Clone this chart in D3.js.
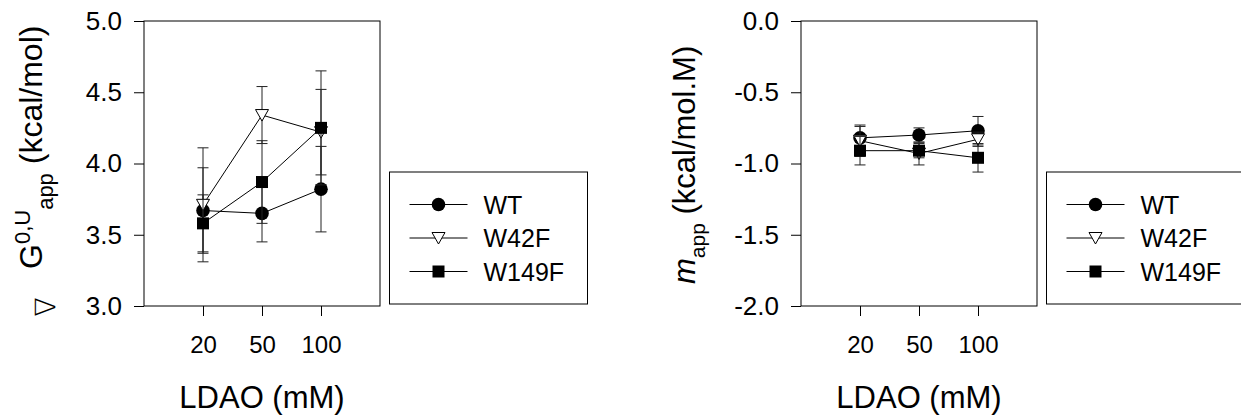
<!DOCTYPE html>
<html>
<head>
<meta charset="utf-8">
<script src="https://cdn.jsdelivr.net/npm/d3@7"></script>
<style>
  body { margin: 0; background: #fff; }
  svg { display: block; font-family: "Liberation Sans", Arial, sans-serif; }
</style>
</head>
<body>
<div id="chart"></div>
<script>
// LDAO concentrations (categorical x)
const categories = ["20", "50", "100"];
const seriesNames = ["WT", "W42F", "W149F"];

// left panel: dG (kcal/mol)
const dgWT = [3.67, 3.65, 3.82];
const dgWTErr = [0.30, 0.20, 0.30];
const dgW42F = [3.71, 4.34, 4.22];
const dgW42FErr = [0.40, 0.20, 0.30];
const dgW149F = [3.58, 3.87, 4.25];
const dgW149FErr = [0.20, 0.29, 0.40];
const dgTicks = [3.0, 3.5, 4.0, 4.5, 5.0];

// right panel: m (kcal/mol.M)
const mWT = [-0.82, -0.80, -0.77];
const mWTErr = [0.08, 0.05, 0.10];
const mW42F = [-0.84, -0.93, -0.83];
const mW42FErr = [0.11, 0.08, 0.05];
const mW149F = [-0.91, -0.91, -0.96];
const mW149FErr = [0.10, 0.05, 0.10];
const mTicks = [-2.0, -1.5, -1.0, -0.5, 0.0];

const width = 1241, height = 418;
const plotW = 236, plotH = 285;

const svg = d3.select("#chart").append("svg")
  .attr("width", width)
  .attr("height", height);

// marker drawing, shared by plot and legend
function drawMarker(g, shape, cx, cy) {
  if (shape === "circle") {
    g.append("circle").attr("cx", cx).attr("cy", cy).attr("r", 6.8).attr("fill", "#000");
  } else if (shape === "triangle") {
    g.append("path")
      .attr("d", `M${cx - 6.5},${cy - 5.5}L${cx + 6.5},${cy - 5.5}L${cx},${cy + 6}Z`)
      .attr("fill", "#fff").attr("stroke", "#000").attr("stroke-width", 1);
  } else {
    g.append("rect").attr("x", cx - 6).attr("y", cy - 6).attr("width", 12).attr("height", 12).attr("fill", "#000");
  }
}
const shapes = ["circle", "triangle", "square"];

function drawPanel(left, top, yDomain, ticks, values, errors) {
  const g = svg.append("g").attr("transform", `translate(${left},${top})`);

  const x = d3.scalePoint().domain(categories).range([0, plotW]).padding(1);
  const y = d3.scaleLinear().domain(yDomain).range([plotH, 0]);

  g.append("rect")
    .attr("width", plotW).attr("height", plotH)
    .attr("fill", "none").attr("stroke", "#000").attr("stroke-width", 1);

  const yAxis = g.append("g")
    .call(d3.axisLeft(y).tickValues(ticks).tickFormat(d => d.toFixed(1)).tickSize(10).tickSizeOuter(0).tickPadding(12));
  const xAxis = g.append("g")
    .attr("transform", `translate(0,${plotH})`)
    .call(d3.axisBottom(x).tickSize(10).tickSizeOuter(0).tickPadding(20));

  [yAxis, xAxis].forEach(a => {
    a.select(".domain").remove();
    a.selectAll("line").attr("stroke", "#000");
    a.selectAll("text").attr("fill", "#000")
      .style("font-family", "'Liberation Sans', Arial, sans-serif");
  });
  yAxis.selectAll("text").style("font-size", "26px");
  xAxis.selectAll("text").style("font-size", "24px");

  const line = d3.line().x((d, i) => x(categories[i])).y(d => y(d));

  values.forEach((vals, s) => {
    const sg = g.append("g");
    vals.forEach((v, i) => {
      const cx = x(categories[i]);
      const e = errors[s][i];
      sg.append("line").attr("x1", cx).attr("x2", cx).attr("y1", y(v - e)).attr("y2", y(v + e))
        .attr("stroke", "#222").attr("stroke-width", 1);
      [v - e, v + e].forEach(c => {
        sg.append("line").attr("x1", cx - 5.5).attr("x2", cx + 5.5).attr("y1", y(c)).attr("y2", y(c))
          .attr("stroke", "#222").attr("stroke-width", 1);
      });
    });
    sg.append("path").datum(vals).attr("d", line)
      .attr("fill", "none").attr("stroke", "#000").attr("stroke-width", 1);
    vals.forEach((v, i) => drawMarker(sg, shapes[s], x(categories[i]), y(v)));
  });

  // legend box
  const lg = g.append("g").attr("transform", `translate(${plotW + 9.5},${151})`);
  lg.append("rect").attr("width", 198).attr("height", 132)
    .attr("fill", "#fff").attr("stroke", "#000").attr("stroke-width", 1);
  seriesNames.forEach((name, s) => {
    const ry = 32.5 + s * 33.5;
    lg.append("line").attr("x1", 20).attr("x2", 78).attr("y1", ry).attr("y2", ry)
      .attr("stroke", "#000").attr("stroke-width", 1);
    drawMarker(lg, shapes[s], 49, ry);
    lg.append("text").attr("x", 94).attr("y", ry).attr("dy", "0.36em")
      .style("font-size", "25px").text(name);
  });

  // x title
  g.append("text")
    .attr("x", x(categories[1])).attr("y", 387)
    .attr("text-anchor", "middle")
    .style("font-size", "31px")
    .text("LDAO (mM)");

  return g;
}

const gL = drawPanel(144, 21, [3, 5], dgTicks, [dgWT, dgW42F, dgW149F], [dgWTErr, dgW42FErr, dgW149FErr]);
const gR = drawPanel(801, 21, [-2, 0], mTicks, [mWT, mW42F, mW149F], [mWTErr, mW42FErr, mW149FErr]);

// left y title: ∇G0,U app (kcal/mol)
svg.append("text")
  .attr("transform", "translate(45,307) rotate(-90)")
  .attr("text-anchor", "middle")
  .attr("dy", "0.35em")
  .style("font-size", "28px")
  .style("font-family", "'DejaVu Sans', sans-serif")
  .style("font-weight", "200")
  .text("\u2207");

const tl = svg.append("text")
  .attr("transform", "translate(42,269) rotate(-90)")
  .style("font-size", "32px");
tl.append("tspan").text("G");
tl.append("tspan").attr("dy", -12).style("font-size", "22px").text("0,U");
tl.append("tspan").attr("dy", 23).style("font-size", "22px").text("app");
tl.append("tspan").attr("dy", -11).text(" (kcal/mol)");

// right y title: m app (kcal/mol.M)
const tr = svg.append("text")
  .attr("transform", "translate(695,284) rotate(-90)")
  .style("font-size", "31px");
tr.append("tspan").style("font-style", "italic").text("m");
tr.append("tspan").attr("dy", 10).style("font-size", "21px").text("app");
tr.append("tspan").attr("dy", -10).text(" (kcal/mol.M)");
</script>
</body>
</html>
